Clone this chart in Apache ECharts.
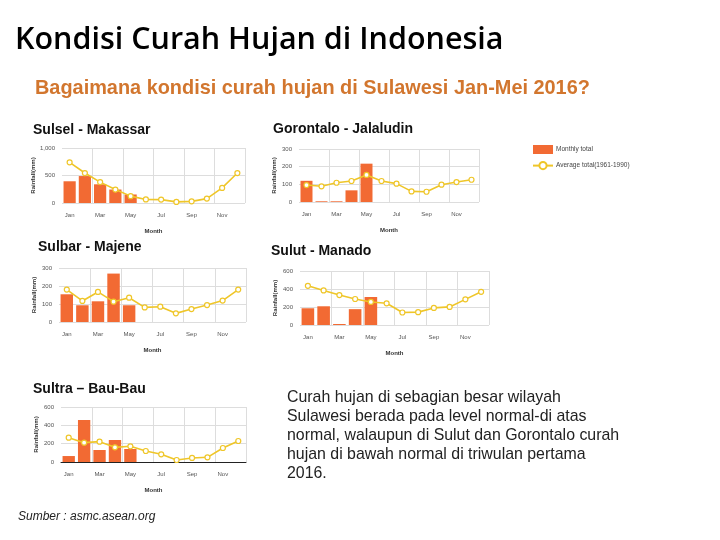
<!DOCTYPE html>
<html>
<head>
<meta charset="utf-8">
<script src="https://cdn.jsdelivr.net/npm/echarts@6/dist/echarts.min.js"></script>
<style>
html,body{margin:0;padding:0;background:#fff;}
#c{width:720px;height:540px;}
</style>
</head>
<body>
<div id="c"></div>
<script>
const months = ['Jan','Feb','Mar','Apr','May','Jun','Jul','Aug','Sep','Oct','Nov','Dec'];

const makassarMonthly = [395, 490, 340, 245, 155];
const makassarAvg = [740, 545, 380, 245, 125, 65, 62, 20, 30, 80, 275, 545];
const gorontaloMonthly = [120, 4, 4, 66, 217];
const gorontaloAvg = [96, 89, 109, 119, 153, 119, 104, 60, 58, 98, 113, 126];
const majeneMonthly = [154, 93, 115, 269, 93];
const majeneAvg = [180, 117, 167, 113, 135, 81, 85, 48, 72, 94, 119, 180];
const manadoMonthly = [186, 208, 11, 176, 311];
const manadoAvg = [435, 384, 333, 289, 256, 241, 139, 143, 190, 201, 285, 369];
const baubauMonthly = [65, 458, 131, 240, 142];
const baubauAvg = [265, 211, 222, 160, 171, 120, 84, 22, 44, 51, 153, 229];

const yMax = [1000, 300, 300, 600, 600];
const yStep = [500, 100, 100, 200, 200];

const stations = ['Sulsel - Makassar', 'Gorontalo - Jalaludin', 'Sulbar - Majene', 'Sulut - Manado', 'Sultra \u2013 Bau-Bau'];
const monthlyData = [makassarMonthly, gorontaloMonthly, majeneMonthly, manadoMonthly, baubauMonthly];
const avgData = [makassarAvg, gorontaloAvg, majeneAvg, manadoAvg, baubauAvg];

const paragraph = ['Curah hujan di sebagian besar wilayah', 'Sulawesi berada pada level normal-di atas', 'normal, walaupun di Sulut dan Gorontalo curah', 'hujan di bawah normal di triwulan pertama', '2016.'];

const grids = [
  {left: 62, top: 148, width: 183, height: 55},
  {left: 299, top: 149, width: 180, height: 53},
  {left: 59, top: 268, width: 187, height: 54},
  {left: 300, top: 271, width: 189, height: 54},
  {left: 61, top: 407, width: 185, height: 55}
];
const stationPos = [[33, 123], [273, 122], [38, 240], [271, 244], [33, 382]];

const BAR = '#F26A33';
const LINE = '#EFC629';
const small = {fontFamily: 'Liberation Sans', fontSize: 6, color: '#555'};

const titles = [
  {text: 'Kondisi Curah Hujan di Indonesia', left: 15, top: 25, padding: 0,
   textStyle: {fontFamily: 'Open Sans', fontSize: 30.5, fontWeight: 600, color: '#000'}},
  {text: 'Bagaimana kondisi curah hujan di Sulawesi Jan-Mei 2016?', left: 35, top: 79, padding: 0,
   textStyle: {fontFamily: 'Liberation Sans', fontSize: 19.9, fontWeight: 'bold', color: '#D2762E'}},
  {text: paragraph.join('\n'), left: 287, top: 388, padding: 0,
   textStyle: {fontFamily: 'Liberation Sans', fontSize: 15.9, fontWeight: 'normal', color: '#222', lineHeight: 19}},
  {text: 'Sumber : asmc.asean.org', left: 18, top: 511, padding: 0,
   textStyle: {fontFamily: 'Liberation Sans', fontSize: 12, fontStyle: 'italic', fontWeight: 'normal', color: '#222'}}
];
stations.forEach((s, i) => titles.push({text: s, left: stationPos[i][0], top: stationPos[i][1], padding: 0,
  textStyle: {fontFamily: 'Liberation Sans', fontSize: 14, fontWeight: 'bold', color: '#111'}}));

const xAxes = [], yAxes = [], series = [];
grids.forEach((g, i) => {
  xAxes.push({type: 'category', gridIndex: i, data: months, boundaryGap: true,
    name: 'Month', nameLocation: 'middle', nameGap: 25,
    nameTextStyle: {fontFamily: 'Liberation Sans', fontSize: 6, fontWeight: 'bold', color: '#333'},
    axisLine: {show: i === 4, lineStyle: {color: '#222', width: 1}},
    axisTick: {show: false},
    axisLabel: Object.assign({interval: 1, margin: 9}, small),
    splitLine: {show: true, interval: (idx) => idx > 0 && idx % 2 === 0, lineStyle: {color: '#ddd', width: 1}}
  });
  yAxes.push({type: 'value', gridIndex: i, min: 0, max: yMax[i], interval: yStep[i],
    name: 'Rainfall(mm)', nameLocation: 'middle', nameGap: 22,
    nameTextStyle: {fontFamily: 'Liberation Sans', fontSize: 6, fontWeight: 'bold', color: '#333'},
    axisLine: {show: false}, axisTick: {show: false},
    axisLabel: Object.assign({margin: 7, formatter: (v) => v.toLocaleString('en-US')}, small),
    splitLine: {show: true, lineStyle: {color: '#ddd', width: 1}}
  });
  series.push({name: 'Monthly total', type: 'bar', xAxisIndex: i, yAxisIndex: i,
    data: monthlyData[i], barCategoryGap: '20%', itemStyle: {color: BAR}, z: 2});
  series.push({name: 'Average total(1961-1990)', type: 'line', xAxisIndex: i, yAxisIndex: i,
    data: avgData[i], symbol: 'circle', symbolSize: 5, showSymbol: true,
    lineStyle: {color: LINE, width: 1.6}, itemStyle: {color: '#fff', borderColor: LINE, borderWidth: 1.2}, z: 3});
});

const chart = echarts.init(document.getElementById('c'), null, {renderer: 'canvas'});
chart.setOption({
  animation: false,
  backgroundColor: '#fff',
  title: titles,
  legend: {left: 527, top: 140, orient: 'vertical', itemWidth: 20, itemHeight: 9, itemGap: 7,
    textStyle: {fontFamily: 'Liberation Sans', fontSize: 6.5, color: '#444', padding: [0, 0, 0, -2]},
    data: [{name: 'Monthly total', icon: 'rect', itemStyle: {color: BAR}},
           {name: 'Average total(1961-1990)', itemStyle: {color: '#fff', borderColor: LINE}, lineStyle: {color: LINE}}]},
  grid: grids,
  xAxis: xAxes,
  yAxis: yAxes,
  series: series
});
</script>
</body>
</html>
